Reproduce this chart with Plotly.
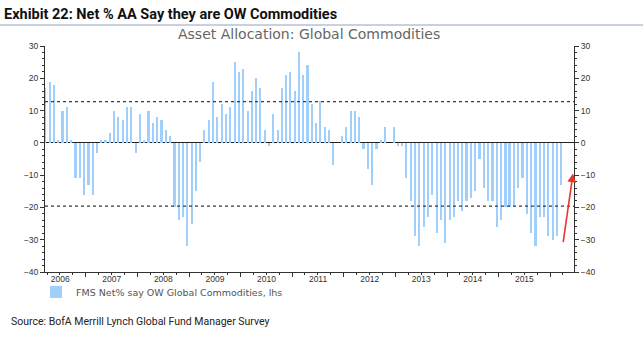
import plotly.graph_objects as go
import pandas as pd

# Monthly net % of asset allocators overweight commodities (Mar 2006 .. Mar 2016)
start_month = "2006-03-01"
values = [17, 19, 18, 1, 10, 11, 1, -11, -11, -16, -13, -16,
          -3, 1, 1, 3, 10, 8, 7, 11, 11, -3, 9, 1,
          10, 6, 8, 7, 4, 2, -20, -24, -23, -32, -25, -15,
          -6, 4, 7, 19, 8, 12, 9, 11, 25, 22, 23, 10,
          16, 20, 17, 4, -1, 9, 4, 17, 21, 22, 16, 28,
          21, 24, 12, 6, 13, 5, 4, -7, 0, 2, 5, 10,
          10, 8, -2, -8, -13, -2, 1, 5, 0, 5, -1, -1,
          -11, -18, -29, -32, -26, -23, -16, -28, -24, -31, -24, -23,
          -18, -21, -18, -17, -15, -5, -14, -18, -18, -26, -24, -20,
          -20, -20, -14, -11, -22, -28, -32, -23, -23, -29, -30, -29,
          -13]
upper_band = 12.8   # long-term average + 1 st.dev.
lower_band = -19.6  # long-term average - 1 st.dev.
y_ticks = [-40, -30, -20, -10, 0, 10, 20, 30]

series_name = "FMS Net% say OW Global Commodities, lhs"
title_text = "Exhibit 22: Net % AA Say they are OW Commodities"
subtitle_text = "Asset Allocation: Global Commodities"
source_text = "Source: BofA Merrill Lynch Global Fund Manager Survey"

dates = pd.date_range(start_month, periods=len(values), freq="MS") + pd.Timedelta(days=18)

W, H = 643, 345
ML, MR, MT, MB = 45, 69, 46, 73
pw, ph = W - ML - MR, H - MT - MB

def px_x(p):
    return (p - ML) / pw

def px_y(p):
    return 1 - (p - MT) / ph

axis_col = "#333333"
tick_font = dict(family="Liberation Sans, Arial, sans-serif", size=8.5, color="#333333")

fig = go.Figure()
fig.add_bar(x=dates, y=values, name=series_name, marker_color="#9fcffa",
            marker_line_width=0, width=15 * 86400000)
fig.add_scatter(x=[dates[0]], y=[0], yaxis="y2", mode="markers",
                marker=dict(opacity=0), showlegend=False, hoverinfo="skip")

yax = dict(range=[-40, 30], tickvals=y_ticks, ticks="outside", ticklen=4,
           tickcolor=axis_col, showline=True, linecolor=axis_col, linewidth=1,
           showgrid=False, tickfont=tick_font,
           minor=dict(dtick=2, ticks="outside", ticklen=2, tickcolor=axis_col))

fig.update_layout(
    width=W, height=H,
    margin=dict(l=ML, r=MR, t=MT, b=MB),
    paper_bgcolor="white", plot_bgcolor="white",
    bargap=0,
    title=dict(text="<b>" + title_text + "</b>", xref="container", yref="container",
               x=4 / W, y=1 - 14 / H, xanchor="left", yanchor="middle",
               font=dict(family="Roboto, Liberation Sans, sans-serif",
                         size=14.5, color="#111111")),
    xaxis=dict(type="date", range=["2006-03-17", "2016-06-18"],
               dtick="M12", tick0="2006-01-01", tickformat="%Y",
               ticklabelmode="period", ticks="outside", ticklen=4,
               tickcolor=axis_col, showline=True, linecolor=axis_col, linewidth=1,
               showgrid=False, tickfont=tick_font, ticklabelstandoff=-5,
               minor=dict(dtick="M3", ticks="outside", ticklen=2, tickcolor=axis_col)),
    yaxis=dict(**yax, zeroline=True, zerolinecolor="#222222", zerolinewidth=1),
    yaxis2=dict(**yax, overlaying="y", side="right", zeroline=False),
    showlegend=True,
    legend=dict(orientation="h", x=px_x(36), xanchor="left", y=px_y(292), yanchor="middle",
                font=dict(family="DejaVu Sans, sans-serif", size=9.5, color="#555555"),
                bgcolor="rgba(0,0,0,0)", itemwidth=30),
    shapes=[
        dict(type="line", xref="paper", yref="y", x0=0, x1=1, y0=upper_band, y1=upper_band,
             line=dict(color="#3a3a3a", width=1.2, dash="3px,3px"), layer="above"),
        dict(type="line", xref="paper", yref="y", x0=0, x1=1, y0=lower_band, y1=lower_band,
             line=dict(color="#3a3a3a", width=1.2, dash="3px,3px"), layer="above"),
        dict(type="line", xref="paper", yref="paper", x0=px_x(0), x1=px_x(W),
             y0=px_y(25), y1=px_y(25), line=dict(color="#8ea3bf", width=1)),
    ],
    annotations=[
        dict(text=subtitle_text, xref="paper", yref="paper", x=px_x(309), y=px_y(34),
             xanchor="center", yanchor="middle", showarrow=False,
             font=dict(family="DejaVu Sans, sans-serif", size=14, color="#666666")),
        dict(text=source_text, xref="paper", yref="paper", x=px_x(9), y=px_y(321),
             xanchor="left", yanchor="middle", showarrow=False,
             font=dict(family="Roboto, Liberation Sans, sans-serif",
                       size=10.5, color="#222222")),
        dict(text="", xref="paper", yref="y", x=px_x(573), y=-9.5,
             ax=-10, ay=70, axref="pixel", ayref="pixel",
             showarrow=True, arrowhead=2, arrowsize=1.1, arrowwidth=1.6,
             arrowcolor="#e8352b", standoff=0),
    ],
)

fig.write_html("out.html")
